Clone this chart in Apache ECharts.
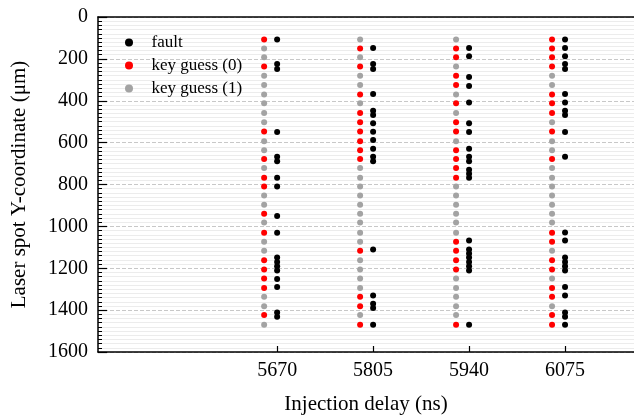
<!DOCTYPE html>
<html>
<head>
<meta charset="utf-8">
<script src="https://cdn.jsdelivr.net/npm/echarts@6/dist/echarts.min.js"></script>
<style>html,body{margin:0;padding:0;background:#fff;}#c{width:634px;height:420px;}</style>
</head>
<body>
<div id="c"></div>
<script>
// Injection delays (ns) – x tick labels
const delays = [5670, 5805, 5940, 6075];
// Laser spot Y positions (µm) of the scanned rows
const rowY = [108,150,192,237,281,325,370,412,459,503,547,594,636,678,721,768,810,852,897,940,982,1030,1073,1117,1162,1206,1249,1294,1336,1381,1423,1470];
// Key guess per row (0 / 1) for each delay
const key5670 = [0,1,1,0,1,1,1,1,1,1,0,1,1,0,1,0,0,1,1,0,1,0,1,1,0,0,0,0,1,1,0,1];
const key5805 = [1,0,1,0,1,1,0,1,0,0,0,0,0,0,1,1,1,1,1,1,1,1,1,0,1,1,1,1,0,0,1,0];
const key5940 = [1,0,0,1,0,0,1,0,1,0,0,1,0,0,0,0,1,1,1,1,1,1,0,0,0,0,1,1,1,1,1,0];
const key6075 = [0,0,0,0,1,1,0,0,0,1,0,1,1,0,1,1,1,1,1,1,1,0,0,1,0,0,1,0,0,1,0,0];
// Fault Y positions (µm) for each delay
const fault5670 = [108,225,248,549,667,689,768,810,951,1030,1149,1170,1190,1211,1251,1290,1411,1432];
const fault5805 = [148,225,248,368,448,468,508,548,587,629,667,689,1110,1330,1370,1390,1470];
const fault5940 = [148,187,287,329,408,508,549,629,667,689,729,749,768,1068,1110,1130,1149,1170,1190,1211,1470];
const fault6075 = [108,148,187,225,248,368,408,448,468,549,667,1029,1068,1149,1170,1190,1211,1289,1330,1411,1432,1470];
// Y tick labels
const yTicks = [0,200,400,600,800,1000,1200,1400,1600];

const keys = [key5670, key5805, key5940, key6075];
const faults = [fault5670, fault5805, fault5940, fault6075];

const faultData = [], key0Data = [], key1Data = [];
delays.forEach((d, i) => {
  faults[i].forEach(y => faultData.push([d, y]));
  keys[i].forEach((b, k) => (b === 0 ? key0Data : key1Data).push([d, rowY[k]]));
});

const FONT = 'Liberation Serif';
const plain = v => String(v);
const chart = echarts.init(document.getElementById('c'), null, {renderer: 'canvas'});
chart.setOption({
  animation: false,
  backgroundColor: '#fff',
  grid: {left: 98, right: 0, top: 17, bottom: 67, containLabel: false},
  legend: {
    orient: 'vertical', left: 120, top: 29, itemWidth: 35, itemHeight: 8, itemGap: 6,
    textStyle: {fontFamily: FONT, fontSize: 17, color: '#000'},
    data: [
      {name: 'fault', icon: 'circle'},
      {name: 'key guess (0)', icon: 'circle'},
      {name: 'key guess (1)', icon: 'circle'}
    ]
  },
  xAxis: [{
    type: 'value', min: 5418, max: 6172, position: 'bottom',
    name: 'Injection delay (ns)', nameLocation: 'middle', nameGap: 42,
    nameTextStyle: {fontFamily: FONT, fontSize: 21, color: '#000'},
    axisLine: {show: true, onZero: false, lineStyle: {color: '#000', width: 1.5}},
    axisTick: {show: true, inside: true, length: 6, customValues: delays, lineStyle: {color: '#000', width: 1.2}},
    axisLabel: {customValues: delays, formatter: plain, fontFamily: FONT, fontSize: 20, color: '#000', margin: 9},
    splitLine: {show: false}
  }, {
    type: 'value', min: 5418, max: 6172, position: 'top',
    axisLine: {show: true, onZero: false, lineStyle: {color: '#000', width: 1.5}},
    axisTick: {show: false}, axisLabel: {show: false}, splitLine: {show: false}
  }],
  yAxis: {
    type: 'value', inverse: true, min: 0, max: 1600, interval: 200,
    name: 'Laser spot Y-coordinate (μm)', nameLocation: 'middle', nameGap: 68,
    nameTextStyle: {fontFamily: FONT, fontSize: 21, color: '#000'},
    axisLine: {show: true, lineStyle: {color: '#000', width: 1.5}},
    axisTick: {show: true, inside: true, length: 9, lineStyle: {color: '#000', width: 1.2}},
    minorTick: {show: true, splitNumber: 10, length: 4, lineStyle: {color: '#000', width: 1}},
    axisLabel: {fontFamily: FONT, fontSize: 20, color: '#000', margin: 10,
      customValues: yTicks, formatter: plain},
    splitLine: {show: true, lineStyle: {color: '#c8c8c8', type: [4, 2], width: 1}},
    minorSplitLine: {show: true, lineStyle: {color: '#ececec', width: 1}}
  },
  series: [
    {name: 'fault', type: 'scatter', data: faultData, symbol: 'circle', symbolSize: 6,
      itemStyle: {color: '#000', opacity: 1}},
    {name: 'key guess (0)', type: 'scatter', data: key0Data, symbol: 'circle', symbolSize: 6,
      symbolOffset: [-13, 0], itemStyle: {color: '#ff0000', opacity: 1}},
    {name: 'key guess (1)', type: 'scatter', data: key1Data, symbol: 'circle', symbolSize: 6,
      symbolOffset: [-13, 0], itemStyle: {color: '#a3a3a3', opacity: 1}}
  ]
});
</script>
</body>
</html>
